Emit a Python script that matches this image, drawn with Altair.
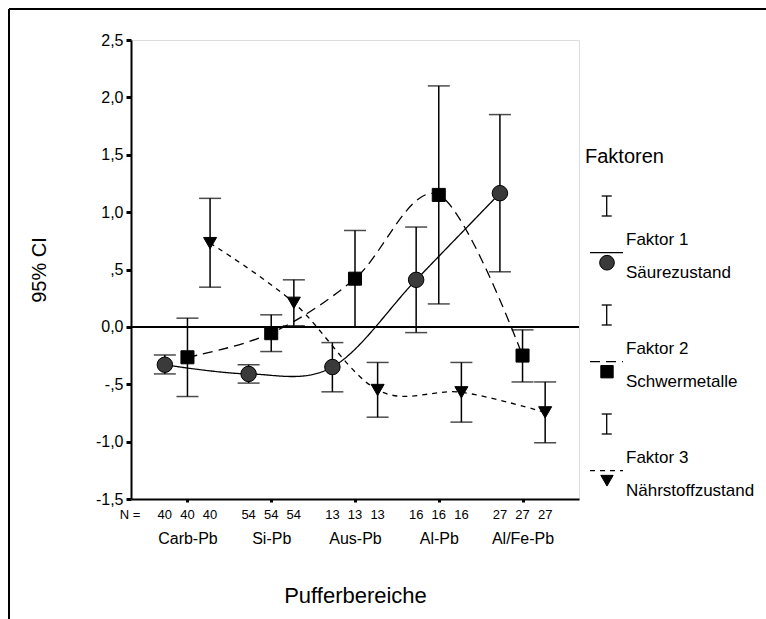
import altair as alt
import pandas as pd

# ---------------- data ----------------
groups = ["Carb-Pb", "Si-Pb", "Aus-Pb", "Al-Pb", "Al/Fe-Pb"]
n_counts = [40, 54, 13, 16, 27]
factor_titles = ["Faktor 1", "Faktor 2", "Faktor 3"]
factor_names = ["Säurezustand", "Schwermetalle", "Nährstoffzustand"]

f1_mean = [-0.33, -0.41, -0.35, 0.41, 1.165]
f1_lo = [-0.41, -0.49, -0.566, -0.05, 0.48]
f1_hi = [-0.245, -0.33, -0.137, 0.87, 1.85]

f2_mean = [-0.265, -0.055, 0.42, 1.15, -0.25]
f2_lo = [-0.607, -0.215, -0.003, 0.20, -0.48]
f2_hi = [0.076, 0.105, 0.84, 2.10, -0.026]

f3_mean = [0.73, 0.21, -0.55, -0.57, -0.745]
f3_lo = [0.346, 0.01, -0.787, -0.83, -1.01]
f3_hi = [1.12, 0.41, -0.31, -0.31, -0.48]

y_ticks = [2.5, 2.0, 1.5, 1.0, 0.5, 0.0, -0.5, -1.0, -1.5]
y_tick_labels = ["2,5", "2,0", "1,5", "1,0", ",5", "0,0", "-,5", "-1,0", "-1,5"]

# ---------------- table ----------------
offsets = [-0.27, 0.0, 0.27]
series = [(f1_mean, f1_lo, f1_hi), (f2_mean, f2_lo, f2_hi), (f3_mean, f3_lo, f3_hi)]
rows = []
for fi, (m, lo, hi) in enumerate(series):
    for gi in range(len(groups)):
        rows.append(dict(factor=fi, group=groups[gi], xpos=gi + offsets[fi],
                         mean=m[gi], lo=lo[gi], hi=hi[gi], n=str(n_counts[gi])))
df = pd.DataFrame(rows)

W, H = 448, 459
FONT = "Liberation Sans"

x_scale = alt.Scale(domain=[-0.674, 4.674], nice=False, zero=False)
y_scale = alt.Scale(domain=[-1.5, 2.5], nice=False, zero=False)

group_arr = "[" + ",".join("'" + g + "'" for g in groups) + "]"
x_axis = alt.Axis(values=list(range(len(groups))), labelExpr=group_arr + "[datum.value]",
                  grid=False, tickSize=3, tickWidth=3, tickColor="black",
                  domainColor="black", domainWidth=2, labelFontSize=16,
                  labelColor="black", labelPadding=28, labelFont=FONT,
                  title="Pufferbereiche", titleFontSize=22, titleFontWeight="normal",
                  titleFont=FONT, titleColor="black", titleY=96, titleBaseline="middle")

expr = "''"
for v, lab in zip(y_ticks, y_tick_labels):
    expr = f"abs(datum.value - ({v})) < 0.01 ? '{lab}' : ({expr})"
y_axis = alt.Axis(values=y_ticks, labelExpr=expr, grid=False, tickSize=5, tickWidth=3,
                  tickColor="black", domainColor="black", domainWidth=2,
                  labelFontSize=16, labelColor="black", labelPadding=3, labelFont=FONT,
                  title="95% CI", titleFontSize=20, titleFontWeight="normal",
                  titleFont=FONT, titleColor="black", titleX=-92, titleY=H / 2,
                  titleBaseline="middle", titleAlign="center")

X = alt.X("xpos:Q", scale=x_scale, axis=x_axis)


def Y(field):
    return alt.Y(field + ":Q", scale=y_scale, axis=y_axis)


base = alt.Chart(df)

layers = []

zero = base.mark_rule(color="black", strokeWidth=1.5).encode(y=alt.datum(0))
layers.append(zero)

dashes = [[1, 0], [10, 6], [5, 5]]
shapes = ["circle", "square", "triangle-down"]
sizes = [240, 170, 170]
fills = ["#3a3a3a", "black", "black"]

for fi in range(3):
    sub = base.transform_filter(alt.datum.factor == fi)
    line = sub.mark_line(interpolate="cardinal", color="black", strokeWidth=1.3,
                         strokeDash=dashes[fi]).encode(x=X, y=Y("mean"), order="xpos:Q")
    bar = sub.mark_rule(color="black", strokeWidth=1.5).encode(x=X, y=Y("lo"), y2="hi:Q")
    cap_lo = sub.mark_tick(orient="horizontal", size=22, thickness=1.5,
                           color="black").encode(x=X, y=Y("lo"))
    cap_hi = sub.mark_tick(orient="horizontal", size=22, thickness=1.5,
                           color="black").encode(x=X, y=Y("hi"))
    pts = sub.mark_point(shape=shapes[fi], filled=True, size=sizes[fi], fill=fills[fi],
                         stroke="black", strokeWidth=1, opacity=1).encode(x=X, y=Y("mean"))
    layers += [line, bar, cap_lo, cap_hi, pts]

# N row
n_text = base.mark_text(fontSize=13, font=FONT, color="black").encode(
    x=X, y=alt.value(H + 16), text="n:N")
layers.append(n_text)

one = alt.Chart(pd.DataFrame({"a": [0]}))
layers.append(one.mark_text(text="N =", fontSize=13, font=FONT, color="black",
                            align="center").encode(x=alt.value(-1), y=alt.value(H + 16)))

# outer frame
layers.append(one.mark_rule(color="black", strokeWidth=2).encode(
    x=alt.value(-122), x2=alt.value(640), y=alt.value(-31), y2=alt.value(-31)))
layers.append(one.mark_rule(color="black", strokeWidth=2).encode(
    x=alt.value(-122), x2=alt.value(-122), y=alt.value(-31), y2=alt.value(590)))

# legend
layers.append(one.mark_text(text="Faktoren", fontSize=20, font=FONT, color="black",
                            align="left", baseline="middle").encode(
    x=alt.value(454), y=alt.value(117)))
ex = 475.7
for k in range(3):
    b = 109 * k
    layers.append(one.mark_rule(color="black", strokeWidth=1.3).encode(
        x=alt.value(ex), x2=alt.value(ex), y=alt.value(156 + b), y2=alt.value(176 + b)))
    for yy in (156 + b, 176 + b):
        layers.append(one.mark_rule(color="black", strokeWidth=1.3).encode(
            x=alt.value(ex - 5), x2=alt.value(ex + 5), y=alt.value(yy), y2=alt.value(yy)))
    layers.append(one.mark_rule(color="black", strokeWidth=1.3, strokeDash=dashes[k]).encode(
        x=alt.value(459), x2=alt.value(492), y=alt.value(212.7 + b), y2=alt.value(212.7 + b)))
    layers.append(one.mark_point(shape=shapes[k], filled=True, size=sizes[k] * 0.9,
                                 fill=fills[k], stroke="black", strokeWidth=1,
                                 opacity=1).encode(x=alt.value(476), y=alt.value(222.7 + b)))
    layers.append(one.mark_text(text=factor_titles[k], fontSize=17, font=FONT, color="black",
                                align="left", baseline="middle").encode(
        x=alt.value(495), y=alt.value(200 + b)))
    layers.append(one.mark_text(text=factor_names[k], fontSize=17, font=FONT, color="black",
                                align="left", baseline="middle").encode(
        x=alt.value(495), y=alt.value(232.7 + b)))

chart = alt.layer(*layers).properties(
    width=W, height=H,
    autosize=alt.AutoSizeParams(type="none"),
    padding={"left": 131, "top": 40, "right": 766 - 131 - W, "bottom": 619 - 40 - H},
    background="white",
).configure_view(stroke="black", strokeWidth=1.5).configure(font=FONT)

chart.save("out.html", embed_options={"renderer": "svg", "actions": False})
